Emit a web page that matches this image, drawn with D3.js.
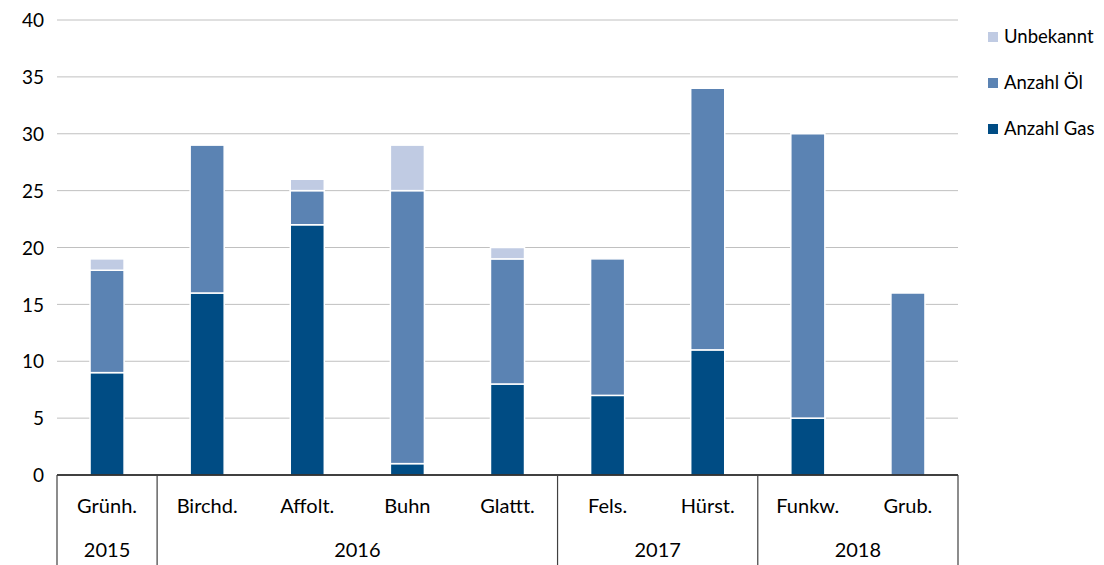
<!DOCTYPE html>
<html lang="de">
  <head>
    <meta charset="utf-8">
    <title>Heizungen</title>
    <script src="https://d3js.org/d3.v7.js"></script>
    <style>
      body { margin: 0; background: #fff; }
      text { font-family: Lato, "Open Sans", sans-serif; fill: #000; }
    </style>
  </head>
  <body>
  <script>

// data
var categories = ["Grünh.", "Birchd.", "Affolt.", "Buhn", "Glattt.", "Fels.", "Hürst.", "Funkw.", "Grub."];
var years = [{year: "2015", from: 0, to: 0},
             {year: "2016", from: 1, to: 4},
             {year: "2017", from: 5, to: 6},
             {year: "2018", from: 7, to: 8}];
var gas = [9, 16, 22, 1, 8, 7, 11, 5, 0];
var oel = [9, 13, 3, 24, 11, 12, 23, 25, 16];
var unbekannt = [1, 0, 1, 4, 1, 0, 0, 0, 0];
var yTicks = [0, 5, 10, 15, 20, 25, 30, 35, 40];

var seriesKeys = ["gas", "oel", "unbekannt"];
var seriesNames = {gas: "Anzahl Gas", oel: "Anzahl Öl", unbekannt: "Unbekannt"};
var colors = {gas: "#004c84", oel: "#5b83b3", unbekannt: "#c0cbe3"};

var data = categories.map(function(c, i) {
  return {cat: c, gas: gas[i], oel: oel[i], unbekannt: unbekannt[i]};
});

var w = 1104, h = 565;
var margin = {top: 20, right: 146, bottom: 90, left: 57};
var innerWidth = w - margin.left - margin.right;
var innerHeight = h - margin.top - margin.bottom;

var xScale = d3.scaleBand()
    .domain(categories)
    .range([0, innerWidth])
    .paddingInner(0.66)
    .paddingOuter(0.33);

var yScale = d3.scaleLinear()
    .domain([0, 40])
    .range([innerHeight, 0]);

var svg = d3.select("body")
  .append("svg")
    .attr("width", w)
    .attr("height", h);

var g = svg.append("g")
    .attr("transform", `translate(${margin.left}, ${margin.top})`);

// gridlines
g.append("g")
    .selectAll("line")
    .data(yTicks.filter(d => d > 0))
    .enter().append("line")
    .attr("x1", 0)
    .attr("x2", innerWidth)
    .attr("y1", d => yScale(d))
    .attr("y2", d => yScale(d))
    .attr("stroke", "#c0c0c0")
    .attr("stroke-width", 1);

// y labels
var yAxis = d3.axisLeft(yScale).tickValues(yTicks).tickSize(0).tickPadding(13);
var ya = g.append("g").call(yAxis);
ya.select(".domain").remove();
ya.selectAll("text").style("font-size", "19px").attr("dy", "0.35em");

// stacked bars
var stack = d3.stack().keys(seriesKeys)(data);

g.append("g")
  .selectAll("g")
  .data(stack)
  .enter().append("g")
    .attr("fill", d => colors[d.key])
  .selectAll("rect")
  .data(d => d.filter(p => p[1] - p[0] > 0))
  .enter().append("rect")
    .attr("x", d => xScale(d.data.cat))
    .attr("y", d => yScale(d[1]))
    .attr("width", xScale.bandwidth())
    .attr("height", d => yScale(d[0]) - yScale(d[1]))
    .attr("stroke", "#fff")
    .attr("stroke-width", 1.5);

// category axis
var step = xScale.step();
g.append("line")
    .attr("x1", 0).attr("x2", innerWidth)
    .attr("y1", innerHeight).attr("y2", innerHeight)
    .attr("stroke", "#000").attr("stroke-width", 1.5);

g.append("g")
  .selectAll("text")
  .data(categories)
  .enter().append("text")
    .attr("x", d => xScale(d) + xScale.bandwidth() / 2)
    .attr("y", innerHeight + 38)
    .attr("text-anchor", "middle")
    .style("font-size", "20px")
    .text(d => d);

var bounds = [0].concat(years.map(d => (d.to + 1) * step));
g.append("g")
  .selectAll("line")
  .data(bounds)
  .enter().append("line")
    .attr("x1", d => d).attr("x2", d => d)
    .attr("y1", innerHeight).attr("y2", h - margin.top)
    .attr("stroke", "#404040").attr("stroke-width", 1.2);

g.append("g")
  .selectAll("text")
  .data(years)
  .enter().append("text")
    .attr("x", d => (d.from + d.to + 1) / 2 * step)
    .attr("y", innerHeight + 82)
    .attr("text-anchor", "middle")
    .style("font-size", "20px")
    .text(d => d.year);

// legend
var legendKeys = ["unbekannt", "oel", "gas"];
var legend = svg.append("g")
    .attr("transform", "translate(988, 37)")
  .selectAll("g")
  .data(legendKeys)
  .enter().append("g")
    .attr("transform", (d, i) => `translate(0, ${i * 46})`);

legend.append("rect")
    .attr("x", 0).attr("y", -5)
    .attr("width", 10).attr("height", 10)
    .attr("fill", d => colors[d]);

legend.append("text")
    .attr("x", 16).attr("y", 0)
    .attr("dy", "0.35em")
    .style("font-size", "18.5px")
    .text(d => seriesNames[d]);

  </script>
  </body>
</html>
